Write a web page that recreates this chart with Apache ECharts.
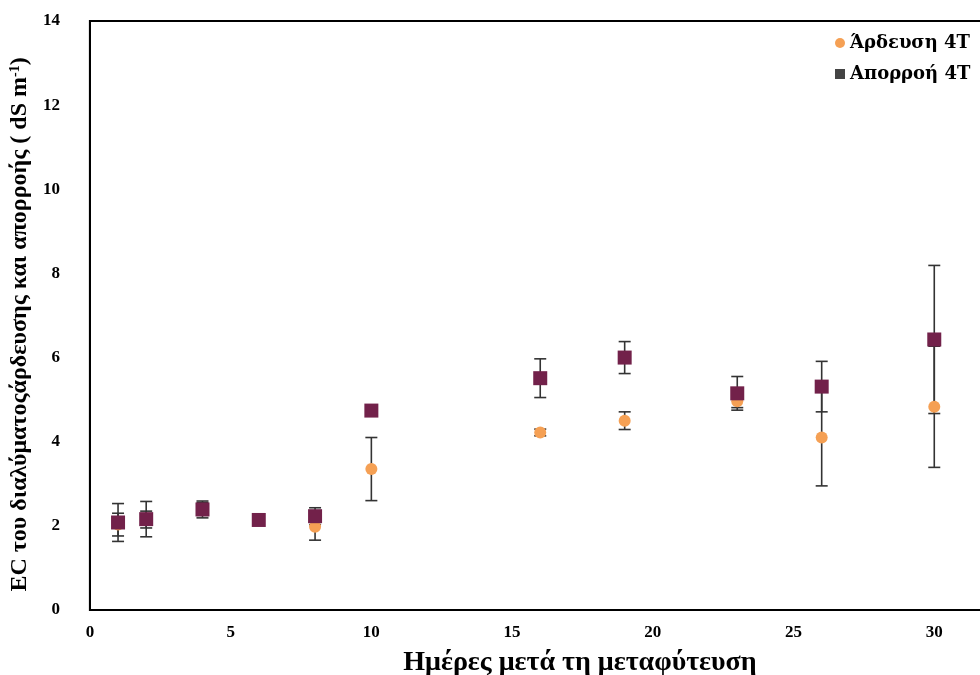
<!DOCTYPE html>
<html>
<head>
<meta charset="utf-8">
<script src="https://cdn.jsdelivr.net/npm/echarts@6/dist/echarts.min.js"></script>
<style>
  html, body { margin: 0; padding: 0; background: #fff; overflow: hidden; }
  /* the original figure is cropped on the right, so the canvas is wider than the window */
  #chart { width: 1100px; height: 675px; }
</style>
</head>
<body>
<div id="chart"></div>
<script>
// days after transplanting
const days = [1, 2, 4, 6, 8, 10, 16, 19, 23, 26, 30]
// irrigation EC (mean, error)
const ardMean = [2.03, 2.15, 2.40, 2.15, 1.98, 3.35, 4.22, 4.50, 4.96, 4.10, 4.83]
const ardErr = [0.27, 0.20, 0.15, 0.08, 0.32, 0.75, 0.08, 0.21, 0.15, 1.15, 1.44]
// runoff EC (mean, error)
const aprMean = [2.08, 2.16, 2.39, 2.14, 2.23, 4.74, 5.51, 6.00, 5.15, 5.31, 6.43]
const aprErr = [0.45, 0.42, 0.20, 0.06, 0.20, 0.05, 0.46, 0.38, 0.40, 0.60, 1.76]

const ardName = 'Άρδευση 4T'
const aprName = 'Απορροή 4T'
const font = "'Liberation Serif', 'DejaVu Serif', serif"

const chart = echarts.init(document.getElementById('chart'), null, { renderer: 'canvas' })

function errRender(params, api) {
  const x = api.value(0), y = api.value(1), e = api.value(2)
  const top = api.coord([x, y + e])
  const bot = api.coord([x, y - e])
  const hw = 6
  const st = { stroke: '#333', lineWidth: 1.6 }
  return {
    type: 'group',
    children: [
      { type: 'line', shape: { x1: top[0], y1: top[1], x2: bot[0], y2: bot[1] }, style: st },
      { type: 'line', shape: { x1: top[0] - hw, y1: top[1], x2: top[0] + hw, y2: top[1] }, style: st },
      { type: 'line', shape: { x1: bot[0] - hw, y1: bot[1], x2: bot[0] + hw, y2: bot[1] }, style: st }
    ]
  }
}

const ardPts = days.map((d, i) => [d, ardMean[i]])
const aprPts = days.map((d, i) => [d, aprMean[i]])
const ardBars = days.map((d, i) => [d, ardMean[i], ardErr[i]])
const aprBars = days.map((d, i) => [d, aprMean[i], aprErr[i]])

chart.setOption({
  animation: false,
  title: {
    text: 'Ημέρες μετά τη μεταφύτευση',
    left: 575, top: 644, textAlign: 'center',
    textStyle: { fontFamily: font, fontWeight: 'bold', fontSize: 28, color: '#000' }
  },
  grid: {
    left: 88, top: 21, width: 987, height: 589,
    show: true, borderColor: '#000', borderWidth: 2
  },
  legend: {
    orient: 'vertical',
    left: 830, top: 29,
    itemGap: 13,
    itemWidth: 10, itemHeight: 10,
    textStyle: { fontFamily: "'DejaVu Serif', serif", fontWeight: 'bold', fontSize: 18, color: '#000' },
    data: [
      { name: ardName, icon: 'circle' },
      { name: aprName, icon: 'rect', itemStyle: { color: '#444' } }
    ]
  },
  xAxis: {
    type: 'value', min: 0, max: 35, interval: 5,
    axisLine: { show: true, lineStyle: { color: '#000', width: 2 } },
    axisTick: { show: false },
    splitLine: { show: false },
    axisLabel: { margin: 14, fontFamily: font, fontWeight: 'bold', fontSize: 17, color: '#000' }
  },
  yAxis: {
    type: 'value', min: 0, max: 14, interval: 2,
    name: 'EC του διαλύματοςάρδευσης και απορροής ( dS m{sup|-1})',
    nameLocation: 'middle', nameGap: 38,
    nameTextStyle: {
      fontFamily: font, fontWeight: 'bold', fontSize: 24, color: '#000',
      padding: [0, 0, 0, -18],
      rich: { sup: { fontFamily: font, fontWeight: 'bold', fontSize: 14, verticalAlign: 'top', color: '#000' } }
    },
    axisLine: { show: true, lineStyle: { color: '#000', width: 2 } },
    axisTick: { show: false },
    splitLine: { show: false },
    axisLabel: { margin: 30, fontFamily: font, fontWeight: 'bold', fontSize: 17, color: '#000' }
  },
  series: [
    {
      type: 'custom', name: 'errArd', renderItem: errRender, data: ardBars,
      encode: { x: 0, y: [1, 2] }, z: 1, silent: true
    },
    {
      type: 'custom', name: 'errApr', renderItem: errRender, data: aprBars,
      encode: { x: 0, y: [1, 2] }, z: 1, silent: true
    },
    {
      type: 'scatter', name: ardName, data: ardPts, symbol: 'circle', symbolSize: 12,
      itemStyle: { color: '#f5a054', opacity: 1 }, z: 3
    },
    {
      type: 'scatter', name: aprName, data: aprPts, symbol: 'rect', symbolSize: 14,
      itemStyle: { color: '#72214a', opacity: 1 }, z: 4
    }
  ]
})
</script>
</body>
</html>
